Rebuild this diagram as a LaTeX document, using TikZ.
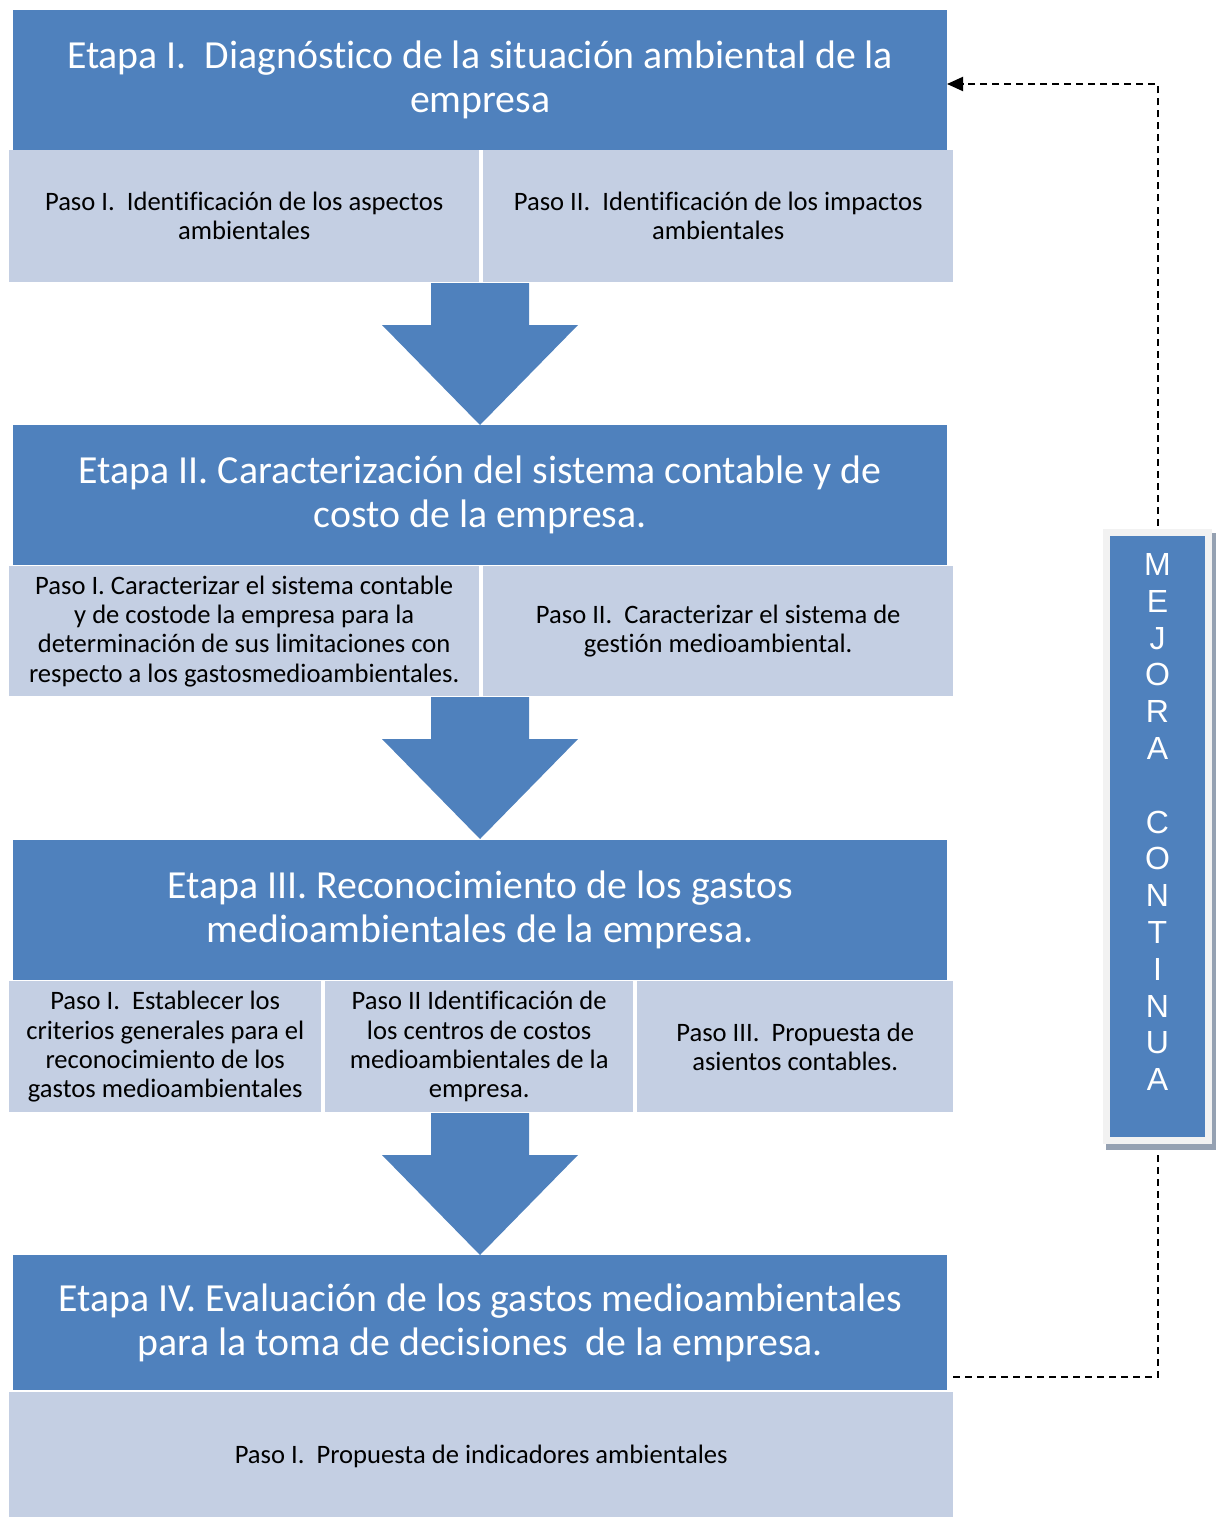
\documentclass[tikz,border=0pt]{standalone}
\usepackage{fontspec}
\setmainfont{Carlito}[Ligatures=NoCommon]
\newfontfamily\mejorafont{Liberation Sans}
\usetikzlibrary{arrows.meta}

\definecolor{etapaazul}{HTML}{4F81BD}
\definecolor{pasoazul}{HTML}{C4CFE3}
\definecolor{marcogris}{HTML}{F2F2F2}
\definecolor{sombragris}{HTML}{95A1B2}

\tikzset{
  etapa/.style={fill=etapaazul, text=white, anchor=north west, inner sep=0pt,
    minimum width=934pt, minimum height=140pt, align=center,
    font=\fontsize{39.8}{44}\selectfont},
  paso/.style={fill=pasoazul, anchor=north west, inner sep=0pt, align=center,
    font=\fontsize{26.6}{29.3}\selectfont},
  flecha/.style={fill=etapaazul},
  mejorabox/.style={fill=etapaazul, draw=marcogris, line width=7pt,
    minimum width=102pt, minimum height=608pt, inner sep=0pt},
  mejoraletras/.style={text=white, align=center, inner sep=0pt,
    font=\mejorafont\fontsize{32}{36.8}\selectfont},
  retorno/.style={line width=2pt, dash pattern=on 7pt off 5pt}
}

\begin{document}
\begin{tikzpicture}[x=1pt,y=-1pt]
\useasboundingbox (0,0) rectangle (1220,1517);

% etapas
\node[etapa] (e1) at (13,10) {Etapa I.\ \ Diagnóstico de la situación ambiental de la\\ empresa};
\node[etapa] (e2) at (13,425) {Etapa II. Caracterización del sistema contable y de\\ costo de la empresa.};
\node[etapa] (e3) at (13,840) {Etapa III. Reconocimiento de los gastos\\ medioambientales de la empresa.};
\node[etapa, minimum height=135pt] (e4) at (13,1255) {Etapa IV. Evaluación de los gastos medioambientales\\ para la toma de decisiones\ \ de la empresa.};

% pasos
\node[paso, minimum width=470pt, minimum height=132pt] (p11) at (9,150) {Paso I.\ \ Identificación de los aspectos\\ ambientales};
\node[paso, minimum width=470pt, minimum height=132pt] (p12) at (483,150) {Paso II.\ \ Identificación de los impactos\\ ambientales};

\node[paso, minimum width=470pt, minimum height=130pt] (p21) at (9,566) {Paso I. Caracterizar el sistema contable\\ y de costode la empresa para la\\ determinación de sus limitaciones con\\ respecto a los gastosmedioambientales.};
\node[paso, minimum width=470pt, minimum height=130pt] (p22) at (483,566) {Paso II.\ \ Caracterizar el sistema de\\ gestión medioambiental.};

\node[paso, minimum width=312pt, minimum height=131pt] (p31) at (9,981) {Paso I.\ \ Establecer los\\ criterios generales para el\\ reconocimiento de los\\ gastos medioambientales};
\node[paso, minimum width=308pt, minimum height=131pt] (p32) at (325,981) {Paso II Identificación de\\ los centros de costos\\ medioambientales de la\\ empresa.};
\node[paso, minimum width=316pt, minimum height=131pt] (p33) at (637,981) {Paso III.\ \ Propuesta de\\ asientos contables.};

\node[paso, minimum width=944pt, minimum height=128pt] (p41) at (9,1392) {Paso I.\ \ Propuesta de indicadores ambientales};

% flechas entre etapas
\foreach \t in {283,697,1113}
  \fill[flecha] (431,\t) -- (529,\t) -- (529,\t+42) -- (578,\t+42)
    -- (480,\t+142) -- (382,\t+42) -- (431,\t+42) -- cycle;

% mejora continua
\fill[sombragris] (1106,533) rectangle (1216,1150);
\node[mejorabox] (mejora) at (1157.5,836.5) {};
\node[mejoraletras] (letras) at (1157.5,822) {M\\ E\\ J\\ O\\ R\\ A\\ \mbox{}\\ C\\ O\\ N\\ T\\ I\\ N\\ U\\ A};

\coordinate (salida) at (953,1377);
\coordinate (llegada) at (947,84);
\draw[retorno, shorten >=10pt] (salida) -| (mejora.south);
\draw[retorno, shorten <=3.5pt, -{Triangle[length=16pt,width=14pt]}] (mejora.north) |- (llegada);

\end{tikzpicture}
\end{document}
